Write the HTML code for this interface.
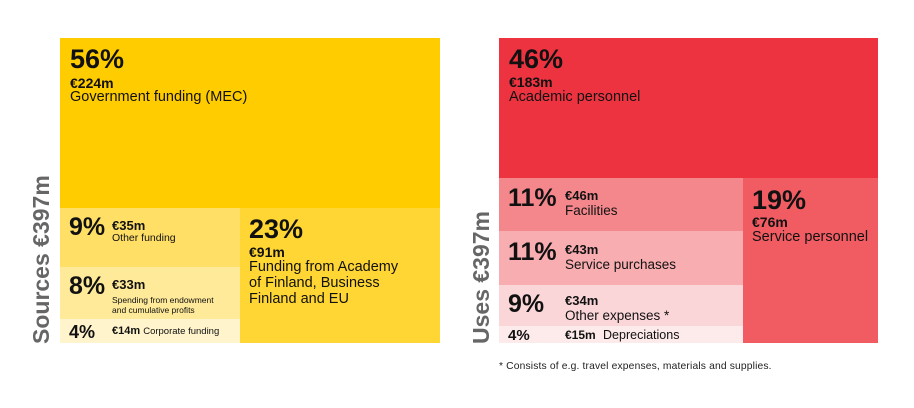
<!DOCTYPE html>
<html><head><meta charset="utf-8"><style>
body{margin:0;width:914px;height:408px;background:#fff;position:relative;overflow:hidden;font-family:"Liberation Sans",sans-serif;color:#111}
.b{position:absolute}
.t{position:absolute;white-space:nowrap;line-height:1}
.p{font-weight:bold}
.ax{position:absolute;font-weight:bold;font-size:23px;color:#666;transform:rotate(-90deg);transform-origin:left top;white-space:nowrap;line-height:1}
</style></head><body>
<div class="b" style="left:60px;top:38px;width:380px;height:170px;background:#FFCC00"></div>
<div class="b" style="left:60px;top:208px;width:180px;height:59px;background:#FFDF66"></div>
<div class="b" style="left:60px;top:267px;width:180px;height:52px;background:#FFEA99"></div>
<div class="b" style="left:60px;top:319px;width:180px;height:24px;background:#FFF4CC"></div>
<div class="b" style="left:240px;top:208px;width:200px;height:135px;background:#FFD633"></div>

<div class="b" style="left:499px;top:38px;width:379px;height:140px;background:#EE3340"></div>
<div class="b" style="left:499px;top:178px;width:244px;height:53px;background:#F4878C"></div>
<div class="b" style="left:499px;top:231px;width:244px;height:54px;background:#F8ADB1"></div>
<div class="b" style="left:499px;top:285px;width:244px;height:41px;background:#FBD6D8"></div>
<div class="b" style="left:499px;top:326px;width:244px;height:17px;background:#FDEAEB"></div>
<div class="b" style="left:743px;top:178px;width:135px;height:165px;background:#F15C63"></div>

<div class="ax" style="left:30px;top:344px">Sources €397m</div>
<div class="ax" style="left:470px;top:344px">Uses €397m</div>

<div class="t p" style="left:70px;top:46px;font-size:27px">56%</div>
<div class="t p" style="left:70px;top:76px;font-size:14px">€224m</div>
<div class="t" style="left:70px;top:90px;font-size:14.5px">Government funding (MEC)</div>

<div class="t p" style="left:69px;top:215px;font-size:25px">9%</div>
<div class="t p" style="left:112px;top:219px;font-size:13px">€35m</div>
<div class="t" style="left:112px;top:233px;font-size:10.5px">Other funding</div>

<div class="t p" style="left:69px;top:274px;font-size:25px">8%</div>
<div class="t p" style="left:112px;top:278px;font-size:13px">€33m</div>
<div class="t" style="left:112px;top:295px;font-size:8.5px;line-height:10px">Spending from endowment<br>and cumulative profits</div>

<div class="t p" style="left:69px;top:323px;font-size:18px">4%</div>
<div class="t p" style="left:112px;top:326px;font-size:11px">€14m <span style="font-weight:normal;font-size:9.5px">Corporate funding</span></div>

<div class="t p" style="left:249px;top:216px;font-size:27px">23%</div>
<div class="t p" style="left:249px;top:245px;font-size:14px">€91m</div>
<div class="t" style="left:249px;top:259px;font-size:14.5px;line-height:16px">Funding from Academy<br>of Finland, Business<br>Finland and EU</div>

<div class="t p" style="left:509px;top:46px;font-size:27px">46%</div>
<div class="t p" style="left:509px;top:75px;font-size:14px">€183m</div>
<div class="t" style="left:509px;top:90px;font-size:14.5px">Academic personnel</div>

<div class="t p" style="left:508px;top:186px;font-size:25px">11%</div>
<div class="t p" style="left:565px;top:189px;font-size:13px">€46m</div>
<div class="t" style="left:565px;top:204px;font-size:13.5px">Facilities</div>

<div class="t p" style="left:508px;top:240px;font-size:25px">11%</div>
<div class="t p" style="left:565px;top:243px;font-size:13px">€43m</div>
<div class="t" style="left:565px;top:258px;font-size:13.5px">Service purchases</div>

<div class="t p" style="left:508px;top:292px;font-size:25px">9%</div>
<div class="t p" style="left:565px;top:294px;font-size:13px">€34m</div>
<div class="t" style="left:565px;top:309px;font-size:13.5px">Other expenses *</div>

<div class="t p" style="left:508px;top:328px;font-size:15px">4%</div>
<div class="t p" style="left:565px;top:329px;font-size:12px">€15m <span style="font-weight:normal;margin-left:4px;font-size:12.5px">Depreciations</span></div>

<div class="t p" style="left:752px;top:187px;font-size:27px">19%</div>
<div class="t p" style="left:752px;top:215px;font-size:14px">€76m</div>
<div class="t" style="left:752px;top:230px;font-size:14.5px">Service personnel</div>

<div class="t" style="left:499px;top:362px;font-size:10.3px;letter-spacing:0.15px;color:#222">* Consists of e.g. travel expenses, materials and supplies.</div>
</body></html>
